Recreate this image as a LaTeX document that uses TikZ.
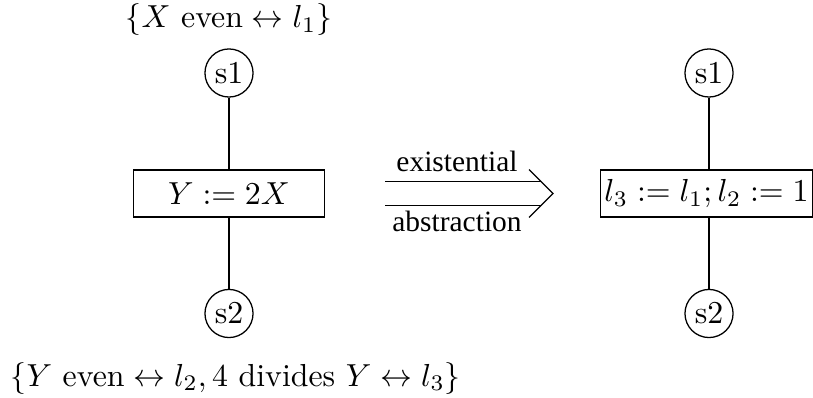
\documentclass[tikz,border=0pt]{standalone}
\usepackage{fontspec}
\newfontfamily\timesfont{Liberation Serif}
\usetikzlibrary{positioning, calc}

\begin{document}
\begin{tikzpicture}[
    x=0.314pt, y=-0.314pt,
    loc/.style={circle, draw, minimum size=15.1pt, inner sep=1pt},
    stmtbox/.style={rectangle, draw, minimum width=60pt, minimum height=14.7pt, inner sep=1.3pt},
    note/.style={inner sep=0pt},
    arrlabel/.style={inner sep=0pt, font=\timesfont\fontsize{9.25}{11}\selectfont}
]
\useasboundingbox (0,0) rectangle (813,398);

% concrete program
\node[loc] (s1) at (229,73) {s1};
\node[stmtbox] (assign) at (229,193.5) {$Y := 2X$};
\node[loc] (s2) at (229,313.5) {s2};
\node[note, anchor=base] (pre) at (229,28) {$\{X \mbox{ even} \leftrightarrow l_1\}$};
\node[note, anchor=base west] (post) at (10,386) {$\{Y \mbox{ even} \leftrightarrow l_2, 4 \mbox{ divides } Y \leftrightarrow l_3\}$};

\draw (s1) -- (assign);
\draw (assign) -- (s2);

% abstract program
\node[loc] (t1) at (709,73) {s1};
\node[stmtbox] (havoc) at (706.5,193.5) {$l_3 := l_1; l_2 := 1$};
\node[loc] (t2) at (709,313.5) {s2};

\draw (t1) -- (t1 |- havoc.north);
\draw (havoc.south -| t2) -- (t2);

% existential abstraction arrow
\coordinate (arrtail) at (385,193.5);
\coordinate (arrtip) at (553,193.5);
\draw ($(arrtail)+(0,-11.7)$) -- ($(arrtip)+(-11.7,-11.7)$);
\draw ($(arrtail)+(0,11.7)$) -- ($(arrtip)+(-11.7,11.7)$);
\draw ($(arrtip)+(-24,-24)$) -- (arrtip) -- ($(arrtip)+(-24,24)$);
\node[arrlabel, anchor=base] (exlabel) at (457,172) {existential};
\node[arrlabel, anchor=base] (ablabel) at (457,232) {abstraction};
\end{tikzpicture}
\end{document}
